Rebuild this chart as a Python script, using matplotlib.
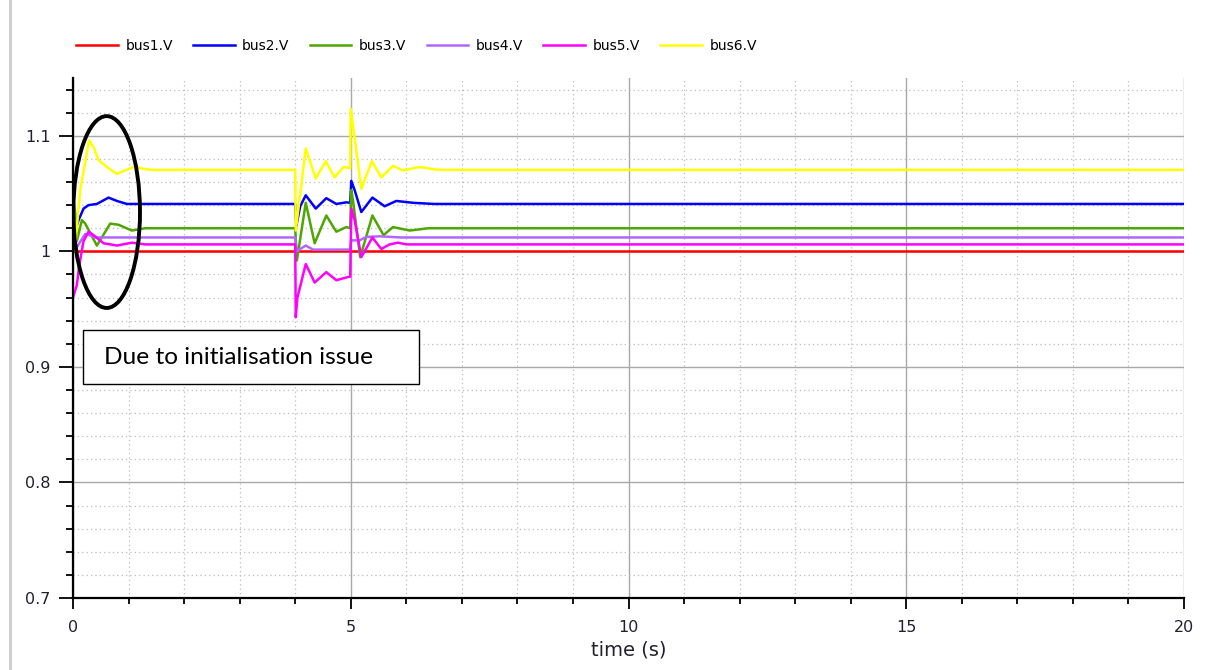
import numpy as np
import matplotlib
matplotlib.use("Agg")
import matplotlib.pyplot as plt
from matplotlib.patches import Ellipse, Rectangle
from matplotlib.lines import Line2D
from matplotlib.ticker import MultipleLocator, FormatStrFormatter

# valeurs (temps en s, tension en pu)
t_bus1 = [0, 20]
v_bus1 = [1.0, 1.0]

t_bus2 = [0, 0.04, 0.10, 0.19, 0.28, 0.43, 0.64, 0.79, 0.97, 4.0, 4.02, 4.04, 4.09, 4.19,
          4.37, 4.56, 4.74, 4.92, 4.99, 5.01, 5.07, 5.19, 5.39, 5.61, 5.82, 6.12, 6.5, 20]
v_bus2 = [1.020, 1.018, 1.027, 1.037, 1.040, 1.041, 1.0465, 1.0436, 1.041, 1.041, 1.022, 1.027,
          1.039, 1.0485, 1.037, 1.046, 1.041, 1.0424, 1.042, 1.061, 1.053, 1.034, 1.0465, 1.039,
          1.0436, 1.042, 1.041, 1.041]

t_bus3 = [0, 0.04, 0.07, 0.16, 0.22, 0.43, 0.67, 0.82, 1.06, 1.3, 4.0, 4.03, 4.19, 4.35, 4.56,
          4.74, 4.92, 4.99, 5.01, 5.04, 5.17, 5.39, 5.59, 5.76, 6.06, 6.4, 20]
v_bus3 = [1.05, 1.033, 1.009, 1.027, 1.024, 1.005, 1.024, 1.023, 1.018, 1.02, 1.02, 0.992,
          1.042, 1.007, 1.031, 1.017, 1.021, 1.02, 1.053, 1.044, 0.995, 1.031, 1.014, 1.021,
          1.018, 1.02, 1.02]

t_bus4 = [0, 0.04, 0.10, 0.22, 0.30, 0.40, 4.0, 4.02, 4.09, 4.19, 4.32, 4.99, 5.01, 5.16,
          5.28, 5.52, 5.9, 20]
v_bus4 = [1.0, 1.001, 1.006, 1.015, 1.014, 1.012, 1.012, 1.0, 1.002, 1.005, 1.0015, 1.0015,
          1.0095, 1.0095, 1.0125, 1.013, 1.012, 1.012]

t_bus5 = [0, 0.07, 0.11, 0.19, 0.28, 0.37, 0.55, 0.79, 1.06, 1.3, 4.0, 4.01, 4.04, 4.19, 4.35,
          4.56, 4.74, 4.97, 4.99, 5.01, 5.07, 5.19, 5.39, 5.55, 5.70, 5.85, 6.0, 20]
v_bus5 = [0.960, 0.971, 0.987, 1.009, 1.017, 1.014, 1.007, 1.005, 1.0075, 1.006, 1.006, 0.943,
          0.960, 0.989, 0.973, 0.982, 0.975, 0.978, 0.978, 1.037, 1.027, 0.995, 1.012, 1.002,
          1.006, 1.0075, 1.006, 1.006]

t_bus6 = [0, 0.04, 0.13, 0.29, 0.37, 0.46, 0.61, 0.79, 0.97, 1.09, 1.21, 1.4, 4.0, 4.01, 4.19,
          4.37, 4.55, 4.71, 4.87, 4.99, 5.0, 5.19, 5.38, 5.55, 5.76, 5.94, 6.24, 6.54, 6.8, 20]
v_bus6 = [1.0, 1.005, 1.053, 1.096, 1.090, 1.079, 1.073, 1.067, 1.0707, 1.073, 1.072, 1.0705,
          1.0705, 1.018, 1.089, 1.063, 1.078, 1.064, 1.073, 1.072, 1.1235, 1.054, 1.078, 1.064,
          1.074, 1.070, 1.073, 1.0707, 1.0705, 1.0705]

noms = ["bus1.V", "bus2.V", "bus3.V", "bus4.V", "bus5.V", "bus6.V"]
couleurs = ["#ff0000", "#0000ff", "#4ea600", "#b266ff", "#ff00ff", "#ffff00"]

series = [(t_bus1, v_bus1), (t_bus2, v_bus2), (t_bus3, v_bus3),
          (t_bus4, v_bus4), (t_bus5, v_bus5), (t_bus6, v_bus6)]

W, H = 1205, 670
fig = plt.figure(figsize=(W / 100, H / 100), dpi=100)
ax = fig.add_axes([73 / W, 1 - 598 / H, (1184 - 73) / W, (598 - 78) / H])

for (t, v), nom, c in zip(series, noms, couleurs):
    ax.plot(t, v, color=c, lw=1.8, label=nom)

ax.set_xlim(0, 20)
ax.set_ylim(0.7, 1.15)
ax.xaxis.set_major_locator(MultipleLocator(5))
ax.xaxis.set_minor_locator(MultipleLocator(1))
ax.yaxis.set_major_locator(MultipleLocator(0.1))
ax.yaxis.set_minor_locator(MultipleLocator(0.02))
ax.yaxis.set_major_formatter(FormatStrFormatter("%g"))

ax.grid(which="major", color="#a8a8a8", lw=1.0, ls="-")
ax.grid(which="minor", color="#bcbcbc", lw=0.9, ls=(0, (1, 2.5)))
ax.set_axisbelow(True)

for s in ["top", "right"]:
    ax.spines[s].set_visible(False)
for s in ["left", "bottom"]:
    ax.spines[s].set_linewidth(1.6)
    ax.spines[s].set_color("black")

txt_col = "#202030"
ax.tick_params(axis="y", which="major", length=10, width=1.3, pad=6, labelsize=11.5, labelcolor=txt_col)
ax.tick_params(axis="y", which="minor", length=5, width=1.3)
ax.tick_params(axis="x", which="major", length=8, width=1.3, pad=8, labelsize=11.5, labelcolor=txt_col)
ax.tick_params(axis="x", which="minor", length=4, width=1.3)

ax.set_xlabel("time (s)", fontsize=14, color=txt_col, labelpad=4)

# annotation
ax.add_patch(Ellipse((0.606, 1.034), 1.2, 0.166, fill=False, ec="black", lw=2.8, zorder=6))
ax.add_patch(Rectangle((0.175, 0.8848), 6.23 - 0.175, 0.9322 - 0.8848,
                       fc="white", ec="black", lw=1.0, zorder=6))
ax.text(0.563, 0.908, "Due to initialisation issue", fontsize=17.6, family="Lato",
        ha="left", va="center", zorder=7)

fig.legend(loc="center left", bbox_to_anchor=(76 / W, 1 - 46 / H), ncol=6, frameon=False,
           fontsize=10, handlelength=3.0, handletextpad=0.55, columnspacing=1.45,
           borderpad=0, borderaxespad=0)

# bordure de la fenêtre
fig.add_artist(Line2D([10 / W, 10 / W], [0, 1], color="#cccccc", lw=2))

fig.savefig("out.png", dpi=100)
